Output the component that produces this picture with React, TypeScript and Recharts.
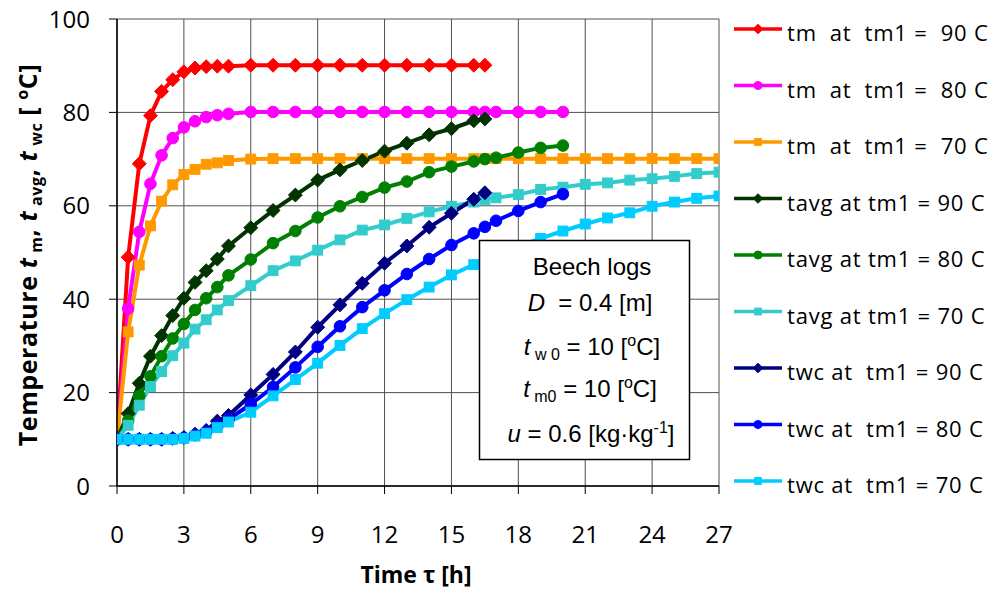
import React from 'react';
import { LineChart, Line, XAxis, YAxis, CartesianGrid, Customized } from 'recharts';

const times = [0, 0.5, 1, 1.5, 2, 2.5, 3, 3.5, 4, 4.5, 5, 6, 7, 8, 9, 10, 11, 12, 13, 14, 15, 16, 16.5, 17, 18, 19, 20, 21, 22, 23, 24, 25, 26, 27];

const tm90 = [10, 49, 69, 79.3, 84.5, 87, 88.7, 89.5, 89.8, 89.9, 89.9, 90.1, 90.1, 90.1, 90.1, 90.1, 90.1, 90.1, 90.1, 90.1, 90.1, 90.1, 90.1];
const tm80 = [10, 38, 54.4, 64.7, 70.8, 74.5, 76.8, 78.1, 79, 79.4, 79.7, 80.1, 80.1, 80.1, 80.1, 80.1, 80.1, 80.1, 80.1, 80.1, 80.1, 80.1, 80.1, 80.1, 80.1, 80.1, 80.1];
const tm70 = [10, 33, 47.3, 55.7, 61, 64.5, 66.7, 67.8, 68.9, 69.2, 69.7, 70, 70.1, 70.1, 70.1, 70.1, 70.1, 70.1, 70.1, 70.1, 70.1, 70.1, 70.1, 70.1, 70.1, 70.1, 70.1, 70.1, 70.1, 70.1, 70.1, 70.1, 70.1, 70.1];
const tavg90 = [10, 15.5, 22, 27.8, 32.2, 36.5, 40.2, 43.6, 46.1, 48.6, 51.4, 55.3, 59, 62.3, 65.5, 67.7, 69.7, 71.7, 73.4, 75.2, 76.5, 78.2, 78.6];
const tavg80 = [10, 14, 19.3, 23.5, 27.8, 31.6, 34.7, 37.7, 40.2, 42.6, 45.1, 48.5, 52, 54.6, 57.5, 59.9, 61.9, 63.9, 65.2, 67.2, 68.4, 69.5, 70, 70.3, 71.4, 72.4, 72.9];
const tavg70 = [10, 13, 17.3, 21.3, 24.5, 27.9, 30.6, 33.6, 35.6, 37.7, 39.7, 42.9, 46.1, 48.2, 50.5, 52.7, 54.8, 55.9, 57.3, 58.7, 59.9, 60.8, 61.3, 61.7, 62.4, 63.5, 64, 64.6, 64.9, 65.5, 65.8, 66.3, 66.9, 67.2];
const twc90 = [10, 10, 10, 10, 10, 10.2, 10.4, 11.1, 11.9, 13.9, 15.1, 19.5, 23.9, 28.7, 34, 38.8, 43.4, 47.7, 51.4, 55.4, 58.4, 61.4, 62.8];
const twc80 = [10, 10, 10, 10, 10, 10.1, 10.3, 10.9, 11.6, 12.8, 14.3, 17.5, 21.2, 25.4, 29.8, 34.2, 38.3, 41.9, 45.4, 48.6, 51.6, 54.1, 55.5, 56.8, 58.9, 60.8, 62.5];
const twc70 = [10, 10, 10, 10, 10, 10, 10.2, 10.7, 11.3, 12.5, 13.7, 15.8, 19.3, 22.8, 26.3, 30.1, 33.7, 36.9, 39.9, 42.6, 45.2, 47.4, 48.5, 49.5, 51.3, 53, 54.6, 56.1, 57.4, 58.5, 59.9, 60.8, 61.6, 62.1];

const xTicks = [0, 3, 6, 9, 12, 15, 18, 21, 24, 27];
const yTicks = [0, 20, 40, 60, 80, 100];

const seriesNames = [
  'tm  at  tm1 =  90 C',
  'tm  at  tm1 =  80 C',
  'tm  at  tm1 =  70 C',
  'tavg at tm1 = 90 C',
  'tavg at tm1 = 80 C',
  'tavg at tm1 = 70 C',
  'twc at  tm1 = 90 C',
  'twc at  tm1 = 80 C',
  'twc at  tm1 = 70 C',
];
const seriesValues = [tm90, tm80, tm70, tavg90, tavg80, tavg70, twc90, twc80, twc70];
const seriesColors = ['#FF0000', '#FF00FF', '#FF9900', '#003300', '#008000', '#33CCCC', '#000080', '#0000FF', '#00CCFF'];
const seriesShapes = ['diamond', 'circle', 'square', 'diamond', 'circle', 'square', 'diamond', 'circle', 'square'];

function marker(shape: string, cx: number, cy: number, color: string, s: number, key?: any) {
  if (shape === 'diamond') {
    const d = s * 1.2;
    return <path key={key} d={`M${cx},${cy - d}L${cx + d},${cy}L${cx},${cy + d}L${cx - d},${cy}Z`} fill={color} stroke={color} strokeWidth={1} />;
  }
  if (shape === 'circle') {
    return <circle key={key} cx={cx} cy={cy} r={s} fill={color} stroke={color} strokeWidth={1} />;
  }
  return <rect key={key} x={cx - s * 0.85} y={cy - s * 0.85} width={s * 1.7} height={s * 1.7} fill={color} stroke={color} strokeWidth={1} />;
}

const makeDot = (shape: string, color: string) => (props: any) => {
  const { cx, cy, index } = props;
  if (cx == null || cy == null) return <g key={`d${index}`} />;
  return marker(shape, cx, cy, color, 5.8, `d${index}`);
};

const FONT = "'Open Sans', sans-serif";

const Annotations = () => {
  return (
    <g>
      {/* Y title */}
      <text transform="rotate(-90)" x={-255} y={37} textAnchor="middle" fontFamily={FONT} fontWeight="bold" fontSize={25} letterSpacing={0.6} fill="#000">
        Temperature <tspan fontStyle="italic">t</tspan>
        <tspan fontSize={16} dy={5}> m</tspan>
        <tspan dy={-5}>, </tspan>
        <tspan fontStyle="italic">t</tspan>
        <tspan fontSize={16} dy={5}> avg</tspan>
        <tspan dy={-5}>, </tspan>
        <tspan fontStyle="italic">t</tspan>
        <tspan fontSize={16} dy={5}> wc</tspan>
        <tspan dy={-5}> [ </tspan>
        <tspan fontSize={16} dy={-9}>o</tspan>
        <tspan dy={9}>C]</tspan>
      </text>
      {/* X title */}
      <text x={416} y={583} textAnchor="middle" fontFamily={FONT} fontWeight="bold" fontSize={23} fill="#000">
        Time τ [h]
      </text>
      {/* Legend */}
      {seriesNames.map((name, i) => {
        const y = 29 + i * 56.5;
        return (
          <g key={name}>
            <line x1={734} x2={782} y1={y} y2={y} stroke={seriesColors[i]} strokeWidth={3.5} />
            {marker(seriesShapes[i], 758, y, seriesColors[i], 4)}
            <text x={787} y={y + 12} fontFamily={FONT} fontSize={22} fill="#000" style={{ whiteSpace: 'pre' }} letterSpacing={0.8}>
              {name}
            </text>
          </g>
        );
      })}
    </g>
  );
};

const InfoBox = () => (
  <svg width={996} height={591} style={{ position: 'absolute', left: 0, top: 0, pointerEvents: 'none' }}>
    <rect x={479.5} y={240.5} width={210} height={219} fill="#fff" stroke="#000" strokeWidth={1.5} />
    <g fontFamily="'Liberation Sans', Arial, sans-serif" fontSize={24} fill="#000" textAnchor="middle">
      <text x={592} y={275}>Beech logs</text>
      <text x={590} y={311} style={{ whiteSpace: 'pre' }}><tspan fontStyle="italic">D</tspan><tspan>{'  = 0.4 [m]'}</tspan></text>
      <text x={592} y={355} style={{ whiteSpace: 'pre' }}>
        <tspan fontStyle="italic">t</tspan>
        <tspan fontSize={16} dy={5}>{' w 0'}</tspan>
        <tspan dy={-5}>{' = 10 ['}</tspan>
        <tspan fontSize={16} dy={-9}>o</tspan>
        <tspan dy={9}>C]</tspan>
      </text>
      <text x={590} y={397} style={{ whiteSpace: 'pre' }}>
        <tspan fontStyle="italic">t</tspan>
        <tspan fontSize={16} dy={5}>{' m0'}</tspan>
        <tspan dy={-5}>{' = 10 ['}</tspan>
        <tspan fontSize={16} dy={-9}>o</tspan>
        <tspan dy={9}>C]</tspan>
      </text>
      <text x={591} y={442} style={{ whiteSpace: 'pre' }}>
        <tspan fontStyle="italic">u</tspan>
        <tspan>{' = 0.6 [kg·kg'}</tspan>
        <tspan fontSize={16} dy={-9}>-1</tspan>
        <tspan dy={9}>]</tspan>
      </text>
    </g>
  </svg>
);

export default function App() {
  return (
    <div style={{ position: 'absolute', left: 0, top: 0, width: 996, height: 591, background: '#fff' }}>
      <LineChart width={996} height={591} margin={{ top: 19, right: 277, bottom: 45, left: 17 }}>
        <CartesianGrid stroke="#505050" strokeWidth={1} horizontal vertical />
        <XAxis
          dataKey="t"
          type="number"
          domain={[0, 27]}
          ticks={xTicks}
          height={60}
          tickSize={8}
          tickMargin={32}
          axisLine={{ stroke: '#000', strokeWidth: 1.5 }}
          tickLine={{ stroke: '#000' }}
          tick={{ fontFamily: FONT, fontSize: 24, fill: '#000' }}
          allowDataOverflow
        />
        <YAxis
          type="number"
          domain={[0, 100]}
          ticks={yTicks}
          width={100}
          tickSize={8}
          tickMargin={19}
          axisLine={{ stroke: '#000', strokeWidth: 1.5 }}
          tickLine={{ stroke: '#000' }}
          tick={{ fontFamily: FONT, fontSize: 24, fill: '#000' }}
        />
        {seriesValues.map((vals, i) => (
          <Line
            key={seriesNames[i]}
            name={seriesNames[i]}
            data={vals.map((v, j) => ({ t: times[j], v }))}
            dataKey="v"
            stroke={seriesColors[i]}
            strokeWidth={4}
            dot={makeDot(seriesShapes[i], seriesColors[i])}
            activeDot={false}
            isAnimationActive={false}
          />
        ))}
        <Customized component={<Annotations />} />
      </LineChart>
      <InfoBox />
    </div>
  );
}
